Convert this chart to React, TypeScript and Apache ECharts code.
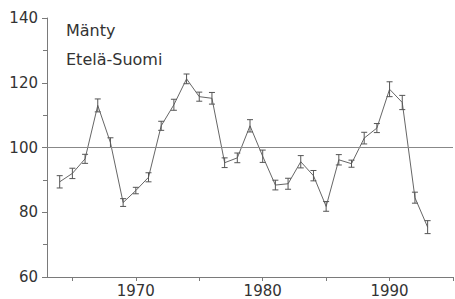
import React, { useEffect, useRef } from "react";
import * as echarts from "echarts";

const years = [1964, 1965, 1966, 1967, 1968, 1969, 1970, 1971, 1972, 1973, 1974, 1975, 1976, 1977, 1978, 1979, 1980, 1981, 1982, 1983, 1984, 1985, 1986, 1987, 1988, 1989, 1990, 1991, 1992, 1993];
const values = [89.4, 92, 96.5, 113, 101.5, 83, 86.7, 90.8, 106.7, 113.2, 121.2, 115.7, 115.2, 95.3, 96.8, 106.7, 97.3, 88.4, 88.8, 95.6, 91.3, 81.8, 96.2, 95, 102.9, 106, 118, 113.9, 84.5, 75.4];
const errors = [1.9, 1.6, 1.4, 2.0, 1.5, 1.2, 1.0, 1.4, 1.4, 1.7, 1.5, 1.4, 1.8, 1.5, 1.5, 1.9, 1.9, 1.5, 1.7, 1.9, 1.6, 1.5, 1.6, 1.1, 1.8, 1.4, 2.3, 2.2, 1.7, 2.0];
const xTickValues = [1965, 1970, 1975, 1980, 1985, 1990, 1995];
const xLabelValues = [1970, 1980, 1990];
const referenceValue = 100;
const titleLines = ["Mänty", "Etelä-Suomi"];

export default function App() {
  const ref = useRef<HTMLDivElement>(null);
  useEffect(() => {
    if (!ref.current) return;
    const chart = echarts.init(ref.current, null, { renderer: "svg" });
    const font = "DejaVu Sans";
    const axisColor = "#7a7a7a";
    chart.setOption({
      animation: false,
      backgroundColor: "#ffffff",
      grid: { left: 47, right: 2, top: 18, bottom: 22, containLabel: false },
      xAxis: {
        type: "value",
        min: 1963,
        max: 1995,
        splitLine: { show: false },
        axisLine: { lineStyle: { color: axisColor, width: 1 } },
        axisTick: { customValues: xTickValues, length: 4, lineStyle: { color: axisColor } },
        axisLabel: {
          customValues: xLabelValues,
          formatter: (v: number) => String(v),
          color: "#333",
          fontFamily: font,
          fontSize: 15,
          margin: 6,
        },
      },
      yAxis: {
        type: "value",
        min: 60,
        max: 140,
        interval: 20,
        splitLine: { show: false },
        axisLine: { show: true, lineStyle: { color: axisColor, width: 1 } },
        axisTick: { show: true, length: 5, lineStyle: { color: axisColor } },
        minorTick: { show: true, splitNumber: 2, length: 4, lineStyle: { color: axisColor } },
        axisLabel: { color: "#333", fontFamily: font, fontSize: 15, margin: 9 },
      },
      graphic: titleLines.map((t, i) => ({
        type: "text",
        left: 66,
        top: 22 + i * 29,
        style: { text: t, fill: "#333", font: `16px "${font}"` },
      })),
      series: [
        {
          type: "line",
          data: years.map((y, i) => [y, values[i]]),
          symbol: "none",
          lineStyle: { color: "#666", width: 1 },
          markLine: {
            silent: true,
            symbol: "none",
            label: { show: false },
            lineStyle: { color: "#888", width: 1, type: "solid" },
            data: [{ yAxis: referenceValue }],
          },
          z: 2,
        },
        {
          type: "custom",
          data: years.map((y, i) => [y, values[i] - errors[i], values[i] + errors[i]]),
          renderItem: (params: any, api: any) => {
            const x = api.value(0);
            const lo = api.coord([x, api.value(1)]);
            const hi = api.coord([x, api.value(2)]);
            const w = 3;
            const style = { stroke: "#555", lineWidth: 1 };
            return {
              type: "group",
              children: [
                { type: "line", shape: { x1: lo[0], y1: lo[1], x2: hi[0], y2: hi[1] }, style },
                { type: "line", shape: { x1: lo[0] - w, y1: lo[1], x2: lo[0] + w, y2: lo[1] }, style },
                { type: "line", shape: { x1: hi[0] - w, y1: hi[1], x2: hi[0] + w, y2: hi[1] }, style },
              ],
            };
          },
          z: 3,
        },
      ],
    });
    return () => chart.dispose();
  }, []);
  return (
    <div
      ref={ref}
      style={{ position: "fixed", left: 0, top: 0, width: 455, height: 299, background: "#fff" }}
    />
  );
}
